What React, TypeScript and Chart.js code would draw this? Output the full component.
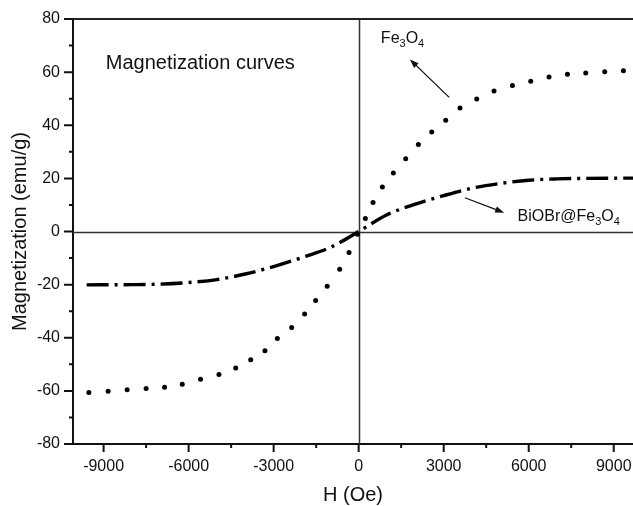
import React, { useEffect, useRef } from "react";
import { Chart, registerables } from "chart.js";

Chart.register(...registerables);

// ---- data ----
const fe3o4H = [
  -9520, -8840, -8170, -7500, -6850, -6225, -5580, -4930, -4340, -3810, -3307, -2870, -2365, -1906,
  -1518, -1110, -670, -340, -40, 236, 508, 836, 1224, 1659, 2107, 2577, 3071, 3576, 4165, 4776, 5425,
  6071, 6718, 7367, 8012, 8683, 9342,
];
const fe3o4M = [
  -60.6, -60.1, -59.6, -59.1, -58.6, -57.5, -55.6, -53.8, -51.4, -48.3, -44.9, -40.3, -36.1, -31.1,
  -26.0, -20.6, -14.2, -7.9, -1.0, 4.9, 10.9, 16.8, 22.0, 27.4, 32.8, 37.5, 41.9, 46.5, 49.9, 52.9,
  55.0, 56.6, 58.2, 59.2, 59.7, 60.1, 60.5,
];
const biobrH = [
  -9600, -8000, -7000, -6000, -5000, -4000, -3000, -2000, -1000, 0, 1000, 2000, 3000, 4000, 5000,
  6000, 7000, 8000, 9680,
];
const biobrM = [
  -20.1, -20.0, -19.8, -19.2, -18.1, -16.0, -13.2, -9.8, -6.0, 0, 6.3, 10.3, 13.5, 16.3, 18.1, 19.3,
  19.8, 20.0, 20.1,
];

const xMajorTicks = [-9000, -6000, -3000, 0, 3000, 6000, 9000];
const xMinorTicks = [-7500, -4500, -1500, 1500, 4500, 7500];
const yMajorTicks = [-80, -60, -40, -20, 0, 20, 40, 60, 80];
const yMinorTicks = [-70, -50, -30, -10, 10, 30, 50, 70];
const xMin = -10080;
const xMax = 9680;
const yMin = -80;
const yMax = 80;

const chartTitle = "Magnetization curves";
const xTitle = "H (Oe)";
const yTitle = "Magnetization (emu/g)";
const fe3o4Label = [
  { t: "Fe", sub: false },
  { t: "3", sub: true },
  { t: "O", sub: false },
  { t: "4", sub: true },
];
const biobrLabel = [
  { t: "BiOBr@Fe", sub: false },
  { t: "3", sub: true },
  { t: "O", sub: false },
  { t: "4", sub: true },
];
// annotation anchors in data units
const titlePos = { h: -8922, m: 61.1 };
const fe3o4LabelPos = { h: 783, m: 70.9 };
const biobrLabelPos = { h: 5608, m: 4.1 };
const fe3o4Arrow = { from: { h: 3194, m: 50.5 }, to: { h: 1807, m: 64.8 } };
const biobrArrow = { from: { h: 3748, m: 12.7 }, to: { h: 5135, m: 7.1 } };

const FONT = "'Liberation Sans', Arial, Helvetica, sans-serif";

function drawRich(ctx: CanvasRenderingContext2D, parts: { t: string; sub: boolean }[], x: number, y: number, size: number, subSize: number) {
  let cx = x;
  ctx.textAlign = "left";
  ctx.textBaseline = "alphabetic";
  for (const p of parts) {
    ctx.font = `${p.sub ? subSize : size}px ${FONT}`;
    ctx.fillText(p.t, cx, p.sub ? y + 4 : y);
    cx += ctx.measureText(p.t).width;
  }
}

function drawArrow(ctx: CanvasRenderingContext2D, x1: number, y1: number, x2: number, y2: number) {
  const ang = Math.atan2(y2 - y1, x2 - x1);
  const hl = 9;
  const hw = 3.2;
  ctx.strokeStyle = "#111";
  ctx.fillStyle = "#111";
  ctx.lineWidth = 1.3;
  ctx.beginPath();
  ctx.moveTo(x1, y1);
  ctx.lineTo(x2 - Math.cos(ang) * hl * 0.8, y2 - Math.sin(ang) * hl * 0.8);
  ctx.stroke();
  ctx.beginPath();
  ctx.moveTo(x2, y2);
  ctx.lineTo(x2 - Math.cos(ang) * hl + Math.sin(ang) * hw, y2 - Math.sin(ang) * hl - Math.cos(ang) * hw);
  ctx.lineTo(x2 - Math.cos(ang) * hl - Math.sin(ang) * hw, y2 - Math.sin(ang) * hl + Math.cos(ang) * hw);
  ctx.closePath();
  ctx.fill();
}

const decorPlugin = {
  id: "decor",
  beforeDatasetsDraw(chart: any) {
    const { ctx, chartArea, scales } = chart;
    const x = scales.x;
    const y = scales.y;
    ctx.save();
    ctx.strokeStyle = "#333";
    ctx.lineWidth = 1.5;
    const x0 = Math.round(x.getPixelForValue(0)) + 0.5;
    const y0 = Math.round(y.getPixelForValue(0)) + 0.5;
    ctx.beginPath();
    ctx.moveTo(x0, chartArea.top);
    ctx.lineTo(x0, chartArea.bottom);
    ctx.moveTo(chartArea.left, y0);
    ctx.lineTo(chartArea.right, y0);
    ctx.stroke();
    ctx.restore();
  },
  afterDraw(chart: any) {
    const { ctx, chartArea, scales } = chart;
    const x = scales.x;
    const y = scales.y;
    ctx.save();
    // top border
    ctx.strokeStyle = "#222";
    ctx.lineWidth = 2;
    ctx.beginPath();
    ctx.moveTo(chartArea.left - 1, chartArea.top);
    ctx.lineTo(chartArea.right, chartArea.top);
    ctx.stroke();
    // ticks
    ctx.strokeStyle = "#111";
    ctx.lineWidth = 2;
    ctx.beginPath();
    for (const v of xMajorTicks) {
      const px = x.getPixelForValue(v);
      ctx.moveTo(px, chartArea.bottom);
      ctx.lineTo(px, chartArea.bottom + 8);
    }
    for (const v of xMinorTicks) {
      const px = x.getPixelForValue(v);
      ctx.moveTo(px, chartArea.bottom);
      ctx.lineTo(px, chartArea.bottom + 4);
    }
    for (const v of yMajorTicks) {
      const py = y.getPixelForValue(v);
      ctx.moveTo(chartArea.left, py);
      ctx.lineTo(chartArea.left - 9, py);
    }
    for (const v of yMinorTicks) {
      const py = y.getPixelForValue(v);
      ctx.moveTo(chartArea.left, py);
      ctx.lineTo(chartArea.left - 4, py);
    }
    ctx.stroke();

    // texts
    ctx.fillStyle = "#111";
    ctx.font = `20px ${FONT}`;
    ctx.textAlign = "left";
    ctx.textBaseline = "alphabetic";
    ctx.fillText(chartTitle, x.getPixelForValue(titlePos.h), y.getPixelForValue(titlePos.m));
    drawRich(ctx, fe3o4Label, x.getPixelForValue(fe3o4LabelPos.h), y.getPixelForValue(fe3o4LabelPos.m), 16, 11);
    drawRich(ctx, biobrLabel, x.getPixelForValue(biobrLabelPos.h), y.getPixelForValue(biobrLabelPos.m), 16, 11);

    drawArrow(
      ctx,
      x.getPixelForValue(fe3o4Arrow.from.h),
      y.getPixelForValue(fe3o4Arrow.from.m),
      x.getPixelForValue(fe3o4Arrow.to.h),
      y.getPixelForValue(fe3o4Arrow.to.m)
    );
    drawArrow(
      ctx,
      x.getPixelForValue(biobrArrow.from.h),
      y.getPixelForValue(biobrArrow.from.m),
      x.getPixelForValue(biobrArrow.to.h),
      y.getPixelForValue(biobrArrow.to.m)
    );
    ctx.restore();
  },
};

export default function App() {
  const ref = useRef<HTMLCanvasElement | null>(null);
  useEffect(() => {
    if (!ref.current) return;
    const chart = new Chart(ref.current, {
      type: "scatter",
      data: {
        datasets: [
          {
            label: "Fe3O4",
            data: fe3o4H.map((h, i) => ({ x: h, y: fe3o4M[i] })),
            showLine: false,
            pointRadius: 2.5,
            pointBackgroundColor: "#000",
            pointBorderWidth: 0,
            borderColor: "#000",
          },
          {
            label: "BiOBr@Fe3O4",
            data: biobrH.map((h, i) => ({ x: h, y: biobrM[i] })),
            showLine: true,
            pointRadius: 0,
            borderColor: "#000",
            borderWidth: 3.4,
            borderDash: [22, 6, 3, 6],
            cubicInterpolationMode: "monotone",
          },
        ],
      },
      options: {
        responsive: false,
        animation: false,
        devicePixelRatio: 1,
        layout: { autoPadding: false, padding: { top: 19, left: 0, right: 0, bottom: 0 } },
        plugins: { legend: { display: false }, tooltip: { enabled: false } },
        scales: {
          x: {
            type: "linear",
            min: xMin,
            max: xMax,
            afterBuildTicks: (s: any) => {
              s.ticks = xMajorTicks.map((v) => ({ value: v }));
            },
            afterFit: (s: any) => {
              s.height = 62;
              s.paddingRight = 0;
              s.paddingLeft = 0;
            },
            grid: { display: false, drawTicks: false },
            border: { display: true, width: 2, color: "#111" },
            ticks: {
              color: "#111",
              font: { family: FONT, size: 16 },
              padding: 13,
              maxRotation: 0,
              autoSkip: false,
              callback: (v: any) => String(v),
            },
            title: {
              display: true,
              text: xTitle,
              color: "#111",
              font: { family: FONT, size: 20, lineHeight: 1 },
              padding: { top: 0, bottom: 1 },
            },
          },
          y: {
            type: "linear",
            min: yMin,
            max: yMax,
            afterBuildTicks: (s: any) => {
              s.ticks = yMajorTicks.map((v) => ({ value: v }));
            },
            afterFit: (s: any) => {
              s.width = 73;
              s.paddingTop = 0;
              s.paddingBottom = 0;
            },
            grid: { display: false, drawTicks: false },
            border: { display: true, width: 2, color: "#111" },
            ticks: {
              color: "#111",
              font: { family: FONT, size: 16 },
              padding: 13,
              autoSkip: false,
              callback: (v: any) => String(v),
            },
            title: {
              display: true,
              text: yTitle,
              color: "#111",
              font: { family: FONT, size: 20, lineHeight: 1 },
              padding: { top: 10, bottom: 0 },
            },
          },
        },
      },
      plugins: [decorPlugin],
    } as any);
    return () => chart.destroy();
  }, []);
  return (
    <div style={{ position: "fixed", left: 0, top: 0, width: 633, height: 506, background: "#fff" }}>
      <canvas ref={ref} width={633} height={506} style={{ display: "block", width: 633, height: 506 }} />
    </div>
  );
}
